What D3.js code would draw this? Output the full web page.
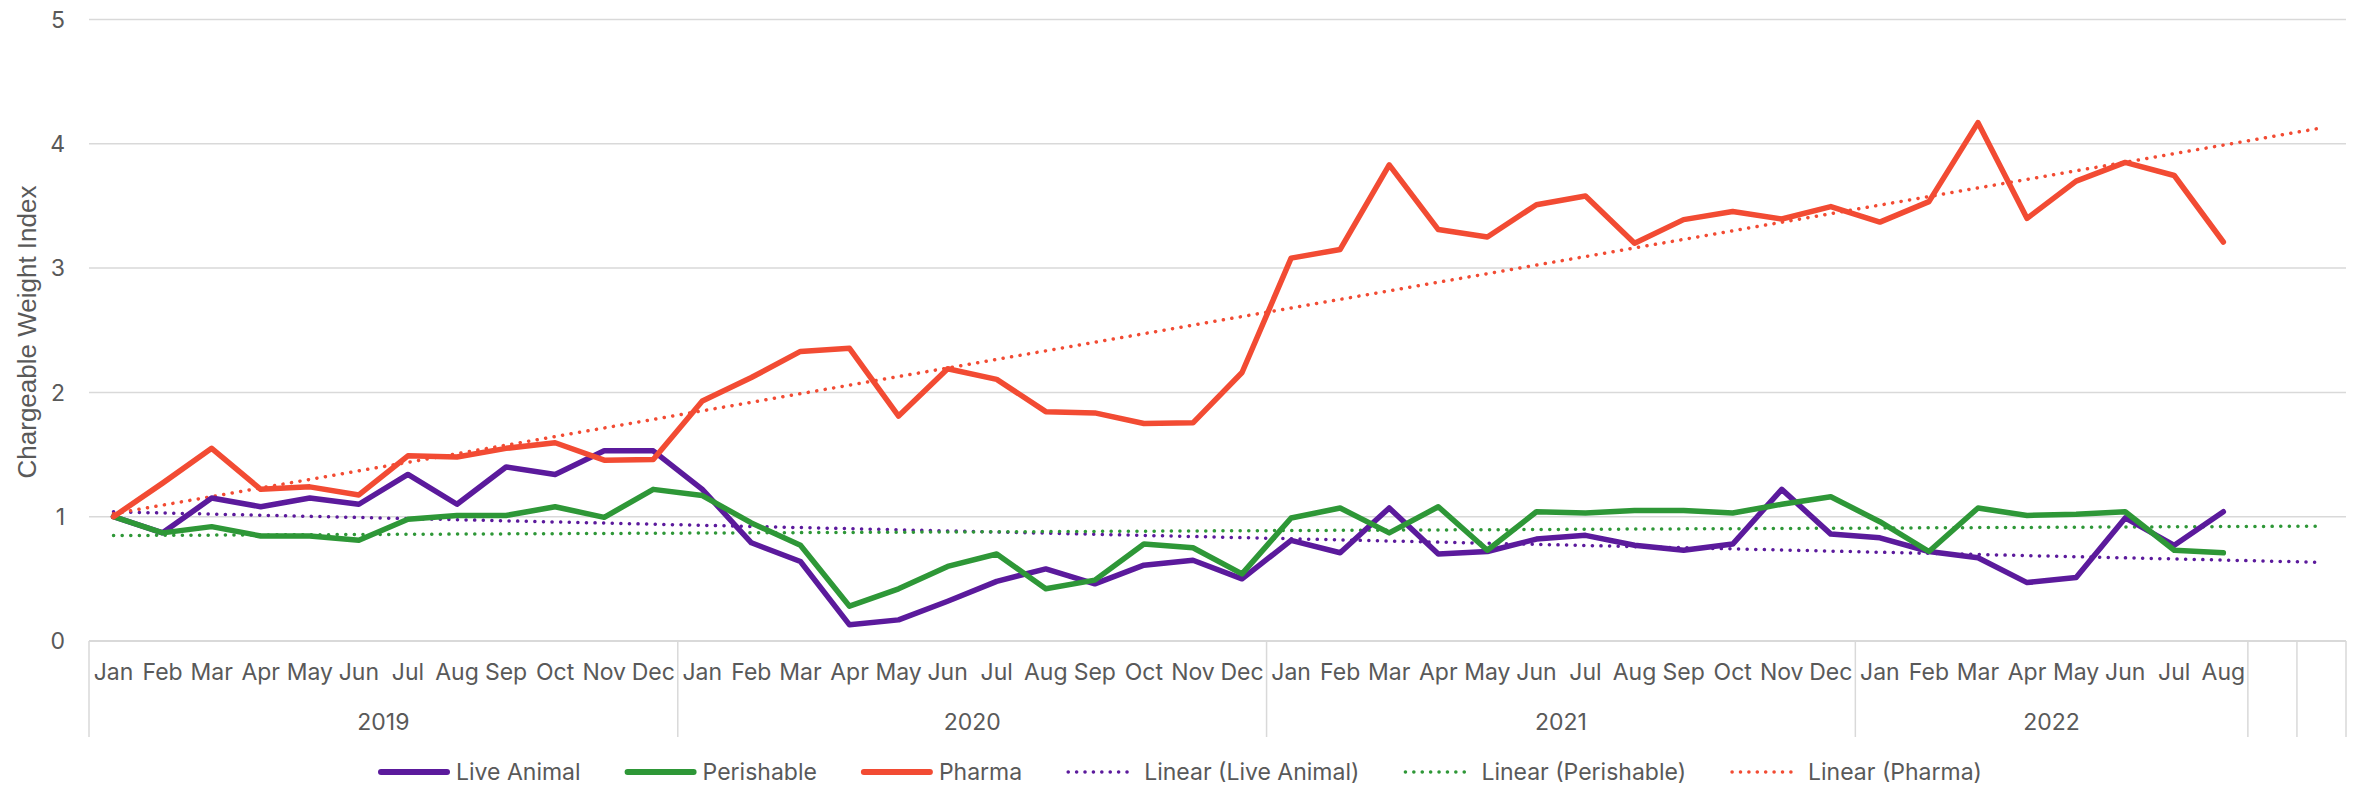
<!DOCTYPE html>
<html>
<head>
<meta charset="utf-8">
<script src="https://cdn.jsdelivr.net/npm/d3@7"></script>
<style>
  body { margin: 0; background: #fff; }
  text { font-family: Inter, "Noto Sans", sans-serif; fill: #595959; }
</style>
</head>
<body>
<div id="chart"></div>
<script>

// data
let years = ["2019", "2020", "2021", "2022", "", ""];
let monthsPerYear = [12, 12, 12, 8, 1, 1];
let monthNames = ["Jan", "Feb", "Mar", "Apr", "May", "Jun", "Jul", "Aug", "Sep", "Oct", "Nov", "Dec"];

let liveAnimal = [
    1.00, 0.87, 1.15, 1.08, 1.15, 1.10, 1.34, 1.10, 1.40, 1.34, 1.53, 1.53,
    1.22, 0.79, 0.64, 0.13, 0.17, 0.32, 0.48, 0.58, 0.46, 0.61, 0.65, 0.50,
    0.81, 0.71, 1.07, 0.70, 0.72, 0.82, 0.85, 0.77, 0.73, 0.78, 1.22, 0.86,
    0.83, 0.72, 0.67, 0.47, 0.51, 0.99, 0.77, 1.04
];
let perishable = [
    1.00, 0.87, 0.92, 0.845, 0.845, 0.81, 0.98, 1.01, 1.01, 1.08, 0.995, 1.22,
    1.17, 0.95, 0.77, 0.28, 0.42, 0.60, 0.70, 0.42, 0.49, 0.78, 0.75, 0.54,
    0.99, 1.07, 0.87, 1.08, 0.73, 1.04, 1.03, 1.05, 1.05, 1.03, 1.10, 1.16,
    0.96, 0.72, 1.07, 1.01, 1.02, 1.04, 0.73, 0.71
];
let pharma = [
    1.00, 1.27, 1.55, 1.22, 1.24, 1.175, 1.49, 1.48, 1.55, 1.595, 1.455, 1.46,
    1.93, 2.12, 2.33, 2.355, 1.81, 2.19, 2.105, 1.845, 1.835, 1.75, 1.755, 2.16,
    3.08, 3.15, 3.83, 3.31, 3.25, 3.51, 3.58, 3.20, 3.39, 3.455, 3.395, 3.495,
    3.37, 3.535, 4.17, 3.40, 3.70, 3.85, 3.745, 3.21
];
let yTicks = [0, 1, 2, 3, 4, 5];

let series = [
    { name: "Live Animal", values: liveAnimal, color: "#5b1a9c" },
    { name: "Perishable", values: perishable, color: "#2e9737" },
    { name: "Pharma", values: pharma, color: "#f24b33" }
];

// category list: one entry per month slot, incl. the 2 blank slots at the end
let cats = [];
years.forEach(function (yr, yi) {
    for (let m = 0; m < monthsPerYear[yi]; m++) {
        cats.push({ id: yi + "-" + m, year: yr, label: yr === "" ? "" : monthNames[m] });
    }
});

let W = 2354, H = 786;
let plotLeft = 89, plotRight = 2346, plotTop = 19.5, plotBottom = 641;

let svg = d3.select("#chart")
    .append("svg")
    .attr("width", W)
    .attr("height", H);

let x = d3.scaleBand()
    .domain(cats.map(d => d.id))
    .range([plotLeft, plotRight])
    .padding(0);

let y = d3.scaleLinear()
    .domain([0, 5])
    .range([plotBottom, plotTop]);

let xc = i => x(cats[i].id) + x.bandwidth() / 2;

// gridlines
svg.append("g")
    .selectAll("line")
    .data(yTicks)
    .join("line")
    .attr("x1", plotLeft)
    .attr("x2", plotRight)
    .attr("y1", d => y(d))
    .attr("y2", d => y(d))
    .style("stroke", "#d9d9d9")
    .style("stroke-width", d => d === 0 ? 2 : 1.5);

// y tick labels
svg.append("g")
    .selectAll("text")
    .data(yTicks)
    .join("text")
    .attr("x", 65)
    .attr("y", d => y(d))
    .attr("dy", "0.36em")
    .attr("text-anchor", "end")
    .style("font-size", "23px")
    .text(d => d);

// y title
svg.append("text")
    .attr("transform", "translate(27,332) rotate(-90)")
    .attr("text-anchor", "middle")
    .attr("dy", "0.35em")
    .style("font-family", "'Liberation Sans', Arial, sans-serif")
    .style("font-size", "26px")
    .text("Chargeable Weight Index");

// month labels
svg.append("g")
    .selectAll("text")
    .data(cats)
    .join("text")
    .attr("x", (d, i) => xc(i))
    .attr("y", 680)
    .attr("text-anchor", "middle")
    .style("font-size", "23px")
    .text(d => d.label);

// year groups: separators + labels
let edges = [0];
monthsPerYear.forEach(function (n, i) { edges.push(edges[i] + n); });
let edgeX = e => e < cats.length ? x(cats[e].id) : plotRight;

svg.append("g")
    .selectAll("line")
    .data(edges)
    .join("line")
    .attr("x1", d => edgeX(d))
    .attr("x2", d => edgeX(d))
    .attr("y1", plotBottom)
    .attr("y2", 737)
    .style("stroke", "#d9d9d9")
    .style("stroke-width", 1.5);

svg.append("g")
    .selectAll("text")
    .data(years)
    .join("text")
    .attr("x", (d, i) => (edgeX(edges[i]) + edgeX(edges[i + 1])) / 2)
    .attr("y", 730)
    .attr("text-anchor", "middle")
    .style("font-size", "23px")
    .text(d => d);

// linear trendlines (least squares over the data), drawn across all slots
function trend(vals) {
    let mx = d3.mean(vals, (v, i) => i);
    let my = d3.mean(vals);
    let sxy = d3.sum(vals, (v, i) => (i - mx) * (v - my));
    let sxx = d3.sum(vals, (v, i) => (i - mx) * (i - mx));
    let b = sxy / sxx;
    let a = my - b * mx;
    return [0, cats.length - 1].map(i => [i, a + b * i]);
}

let line = d3.line()
    .x(d => xc(d[0]))
    .y(d => y(d[1]));

series.forEach(function (s) {
    svg.append("path")
        .datum(trend(s.values))
        .attr("d", line)
        .attr("fill", "none")
        .style("stroke", s.color)
        .style("stroke-width", 3.5)
        .style("stroke-linecap", "round")
        .style("stroke-dasharray", "0.1 8.5");
});

series.forEach(function (s) {
    svg.append("path")
        .datum(s.values.map((v, i) => [i, v]))
        .attr("d", line)
        .attr("fill", "none")
        .style("stroke", s.color)
        .style("stroke-width", 5.5)
        .style("stroke-linejoin", "round")
        .style("stroke-linecap", "round");
});

// legend
let legendItems = series.map(s => ({ name: s.name, color: s.color, dotted: false }))
    .concat(series.map(s => ({ name: "Linear (" + s.name + ")", color: s.color, dotted: true })));

let lx = 378;
let ly = 772;
legendItems.forEach(function (d) {
    let g = svg.append("g").attr("transform", "translate(" + lx + "," + ly + ")");
    g.append("line")
        .attr("x1", d.dotted ? 2 : 3)
        .attr("x2", d.dotted ? 68 : 69)
        .attr("y1", 0)
        .attr("y2", 0)
        .style("stroke", d.color)
        .style("stroke-width", d.dotted ? 3.5 : 6)
        .style("stroke-linecap", "round")
        .style("stroke-dasharray", d.dotted ? "0.1 8.3" : null);
    let t = g.append("text")
        .attr("x", 78)
        .attr("y", 0)
        .attr("dy", "0.35em")
        .style("font-size", "23px")
        .text(d.name);
    lx += 78 + t.node().getComputedTextLength() + 44;
});

</script>
</body>
</html>
